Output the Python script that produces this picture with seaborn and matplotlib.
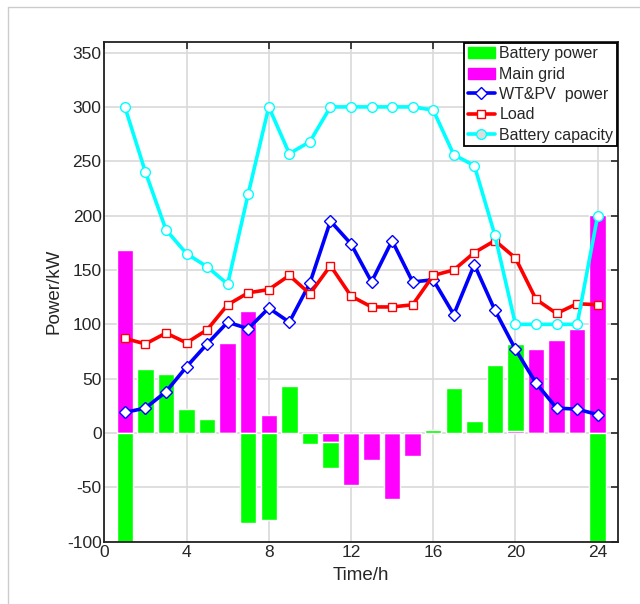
import numpy as np
import matplotlib
matplotlib.use('Agg')
import matplotlib.pyplot as plt
from matplotlib.lines import Line2D
import seaborn as sns

# hourly data
hours = np.arange(1, 25)
battery_power = [-110, 59, 54, 22, 13, 0, -83, -80, 43, -10, -24, 0,
                 0, 0, 0, 3, 41, 11, 63, 80, 0, 0, 0, -110]
main_grid = [168, 0, 0, 0, 0, 83, 112, 17, 0, 0, -8, -48,
             -25, -61, -21, 0, 0, 0, 0, 2, 77, 86, 96, 201]
wt_pv = [19, 23, 38, 61, 82, 102, 96, 115, 102, 138, 195, 174,
         139, 177, 139, 141, 109, 155, 113, 77, 46, 23, 22, 17]
load = [87, 82, 92, 83, 95, 118, 129, 132, 145, 128, 154, 126,
        116, 116, 118, 145, 150, 166, 177, 161, 123, 110, 119, 118]
battery_cap = [300, 240, 187, 165, 153, 137, 220, 300, 257, 268, 300, 300,
               300, 300, 300, 297, 256, 246, 182, 100, 100, 100, 100, 200]

sns.set_style('white')
plt.rcParams['font.family'] = ['Liberation Sans', 'DejaVu Sans']
plt.rcParams['axes.unicode_minus'] = False

fig = plt.figure(figsize=(6.4, 6.04), dpi=100)
ax = fig.add_axes([0.163, 0.103, 0.803, 0.828])

# stacked bars: grid first, battery stacked on it when same sign
grid = np.array(main_grid, dtype=float)
batt = np.array(battery_power, dtype=float)
batt_bottom = np.where(np.sign(batt) == np.sign(grid), grid, 0)
ax.bar(hours, grid, width=0.8, color='#ff00ff', zorder=2)
ax.bar(hours, batt, width=0.8, bottom=batt_bottom, color='#00ff00', zorder=2)

sns.lineplot(x=hours, y=wt_pv, ax=ax, color='#0000ff', lw=2.6, marker='D',
             markersize=6, markerfacecolor='white', markeredgecolor='#0000ff',
             markeredgewidth=1.0, zorder=3)
sns.lineplot(x=hours, y=load, ax=ax, color='#ff0000', lw=2.6, marker='s',
             markersize=5.5, markerfacecolor='white', markeredgecolor='#ff0000',
             markeredgewidth=1.0, zorder=4)
sns.lineplot(x=hours, y=battery_cap, ax=ax, color='#00ffff', lw=2.6, marker='o',
             markersize=7, markerfacecolor='white', markeredgecolor='#00ffff',
             markeredgewidth=1.0, zorder=5)

ax.set_xlim(0, 25)
ax.set_ylim(-100, 360)
ax.set_xticks(range(0, 25, 4))
ax.set_yticks(range(-100, 351, 50))
ax.tick_params(direction='in', length=5, width=1.2, labelsize=12.5,
               top=True, right=True, labeltop=False, labelright=False, pad=2)
ax.grid(True, color='#d9d9d9', lw=1.2, zorder=0)
ax.set_axisbelow(True)
for s in ax.spines.values():
    s.set_color('#222222')
    s.set_linewidth(1.3)
ax.set_xlabel('Time/h', fontsize=13.5, labelpad=5)
ax.set_ylabel('Power/kW', fontsize=13.5, labelpad=3)

handles = [
    plt.Rectangle((0, 0), 1, 1, color='#00ff00'),
    plt.Rectangle((0, 0), 1, 1, color='#ff00ff'),
    Line2D([], [], color='#0000ff', lw=2.6, marker='D', ms=6, mfc='white', mec='#0000ff'),
    Line2D([], [], color='#ff0000', lw=2.6, marker='s', ms=5.5, mfc='white', mec='#ff0000'),
    Line2D([], [], color='#00ffff', lw=2.6, marker='o', ms=7, mfc='#dddddd', mec='#00ffff'),
]
labels = ['Battery power', 'Main grid', 'WT&PV  power', 'Load', 'Battery capacity']
leg = ax.legend(handles, labels, loc='upper right', fontsize=11.5, fancybox=False,
                framealpha=1, edgecolor='black', borderaxespad=0.1,
                borderpad=0.2, handlelength=1.75, handletextpad=0.25,
                labelspacing=0.33)
leg.get_frame().set_linewidth(1.3)

# light border around the figure
fig.add_artist(Line2D([0.012, 0.012], [0, 0.988], color='#cccccc', lw=1))
fig.add_artist(Line2D([0.012, 1.0], [0.988, 0.988], color='#cccccc', lw=1))

fig.savefig('out.png', dpi=100)
